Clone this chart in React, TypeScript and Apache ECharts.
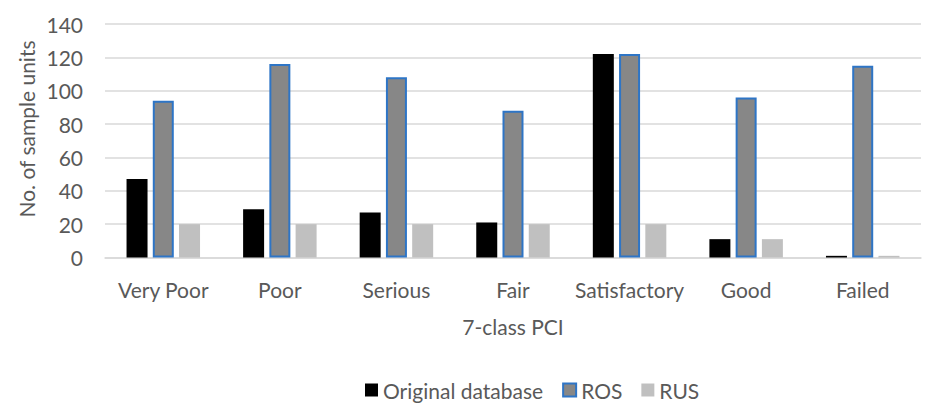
import React, { useEffect, useRef } from "react";
import * as echarts from "echarts";

const categories = ["Very Poor", "Poor", "Serious", "Fair", "Satisfactory", "Good", "Failed"];
const originalDatabase = [47, 29, 27, 21, 122, 11, 1];
const rosValues = [94, 116, 108, 88, 122, 96, 115];
const rusValues = [20, 20, 20, 20, 20, 11, 1];
const yTicks = { min: 0, max: 140, interval: 20 };

const FONT = "Lato, 'Open Sans', sans-serif";
const TEXT = "#595959";
const GRID = "#D9D9D9";
const FS = 21;

export default function App() {
  const ref = useRef<HTMLDivElement>(null);

  useEffect(() => {
    if (!ref.current) return;
    const chart = echarts.init(ref.current, undefined, { renderer: "svg" });
    chart.setOption({
      animation: false,
      textStyle: { fontFamily: FONT },
      grid: { left: 105, right: 5, top: 24, bottom: 145.5 },
      xAxis: {
        type: "category",
        data: categories,
        axisLine: { lineStyle: { color: GRID, width: 1.5 } },
        axisTick: { show: false },
        axisLabel: { color: TEXT, fontSize: FS, margin: 21, interval: 0, fontFamily: FONT },
        name: "7-class PCI",
        nameLocation: "middle",
        nameGap: 58,
        nameTextStyle: { color: TEXT, fontSize: FS, fontFamily: FONT },
      },
      yAxis: {
        type: "value",
        min: yTicks.min,
        max: yTicks.max,
        interval: yTicks.interval,
        axisLine: { show: false },
        axisTick: { show: false },
        axisLabel: { color: TEXT, fontSize: FS, margin: 22, fontFamily: FONT },
        splitLine: { lineStyle: { color: GRID, width: 1.5 } },
      },
      legend: {
        left: 365,
        top: 379,
        padding: 0,
        icon: "rect",
        itemWidth: 13,
        itemHeight: 13,
        itemGap: 19,
        textStyle: { color: TEXT, fontSize: FS, lineHeight: 22, fontFamily: FONT },
        data: ["Original database", "ROS", "RUS"],
      },
      graphic: [
        {
          type: "text",
          x: 26,
          y: 129,
          rotation: Math.PI / 2,
          style: {
            text: "No. of sample units",
            fill: TEXT,
            font: `${FS}px ${FONT}`,
            textAlign: "center",
            textVerticalAlign: "middle",
          },
        },
      ],
      series: [
        {
          name: "Original database",
          type: "bar",
          data: originalDatabase,
          barWidth: 21,
          barGap: "25%",
          itemStyle: { color: "#000000" },
        },
        {
          name: "ROS",
          type: "bar",
          data: rosValues,
          barWidth: 21,
          barGap: "25%",
          itemStyle: { color: "#878787", borderColor: "#2E75C6", borderWidth: 2 },
        },
        {
          name: "RUS",
          type: "bar",
          data: rusValues,
          barWidth: 21,
          barGap: "25%",
          itemStyle: { color: "#C0C0C0" },
        },
      ],
    });
    return () => chart.dispose();
  }, []);

  return <div ref={ref} style={{ width: 926, height: 403, position: "absolute", left: 0, top: 0 }} />;
}
